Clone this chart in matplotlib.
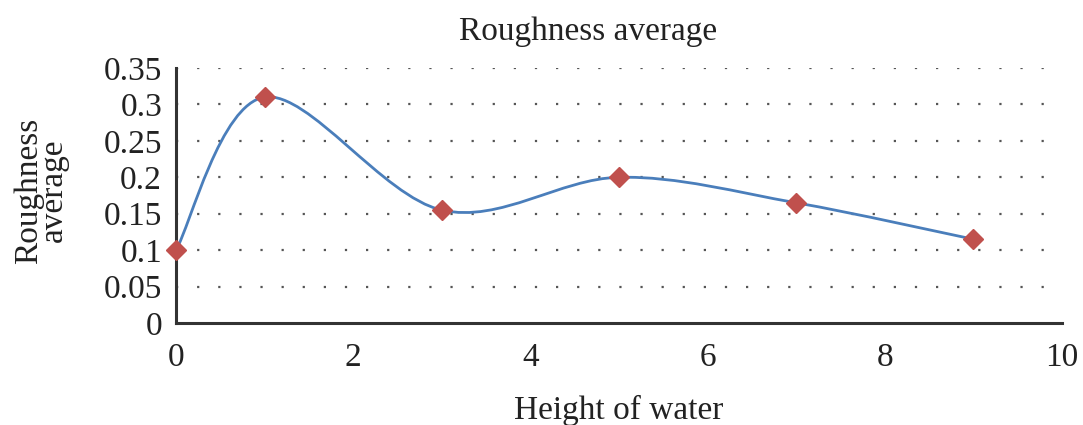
import numpy as np
import matplotlib
matplotlib.use("Agg")
from matplotlib import pyplot as plt
from matplotlib.path import Path
from matplotlib.patches import PathPatch

plt.rcParams['font.family'] = ['Liberation Serif', 'DejaVu Serif']

height_of_water = [0, 1, 3, 5, 7, 9]
roughness_avg = [0.1, 0.31, 0.155, 0.2, 0.165, 0.115]

x_ticks = [0, 2, 4, 6, 8, 10]
y_ticks = [0, 0.05, 0.1, 0.15, 0.2, 0.25, 0.3, 0.35]
y_tick_labels = ['0', '0.05', '0.1', '0.15', '0.2', '0.25', '0.3', '0.35']


def smooth_path(xs, ys):
    # spreadsheet-style smoothed line: cubic bezier segments through each point
    pts = np.column_stack([xs, ys]).astype(float)
    n = len(pts)
    verts = [pts[0]]
    codes = [Path.MOVETO]
    for i in range(n - 1):
        p0 = pts[i - 1] if i > 0 else pts[i]
        p1 = pts[i]
        p2 = pts[i + 1]
        p3 = pts[i + 2] if i + 2 < n else pts[i + 1]
        c1 = p1 + (p2 - p0) / 6.0
        c2 = p2 - (p3 - p1) / 6.0
        verts += [c1, c2, p2]
        codes += [Path.CURVE4] * 3
    return Path(verts, codes)


fig = plt.figure(figsize=(10.83, 4.25), dpi=100)
ax = fig.add_axes([0.1625, 0.24, 0.818, 0.60])

line = PathPatch(smooth_path(height_of_water, roughness_avg), facecolor='none',
                 edgecolor='#4a7ebb', linewidth=2.0, zorder=3)
ax.add_patch(line)
ax.plot(height_of_water, roughness_avg, linestyle='none', marker='D',
        markersize=10, color='#c0504d', zorder=4, clip_on=False)

ax.set_xlim(0, 10)
ax.set_ylim(0, 0.35)
ax.set_xticks(x_ticks)
ax.set_yticks(y_ticks)
ax.set_yticklabels(y_tick_labels)
ax.tick_params(axis='both', length=0, labelsize=24, colors='#222222')
ax.tick_params(axis='x', pad=14)
ax.tick_params(axis='y', pad=10)

for yv in y_ticks[1:]:
    ax.axhline(yv, color='#555555', linestyle=(0, (1, 8.5)), linewidth=1.6, zorder=1)

for s in ['top', 'right']:
    ax.spines[s].set_visible(False)
for s in ['left', 'bottom']:
    ax.spines[s].set_linewidth(2.2)
    ax.spines[s].set_color('#333333')

fig.text(0.543, 0.925, 'Roughness average', fontsize=24, ha='center',
         va='center', color='#222222')
ax.set_xlabel('Height of water', fontsize=24, labelpad=16, color='#222222')
ax.set_ylabel('Roughness\naverage', fontsize=24, color='#222222',
              linespacing=0.75, va='center', ha='center')
ax.yaxis.set_label_coords(-0.152, 0.52)

fig.savefig('out.png', dpi=100)
